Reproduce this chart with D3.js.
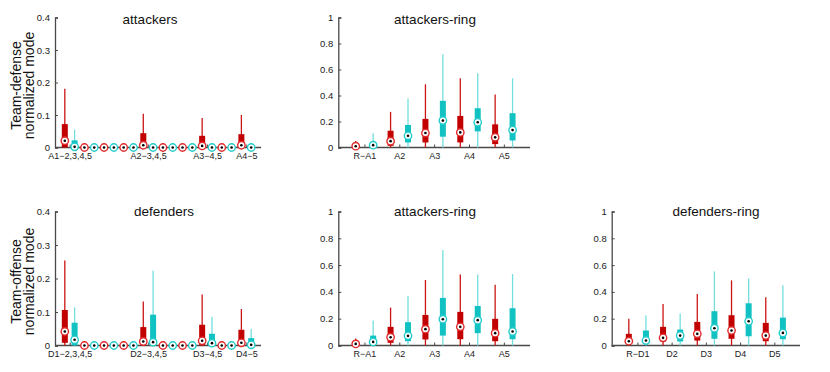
<!DOCTYPE html>
<html>
<head>
<meta charset="utf-8">
<script src="https://cdn.jsdelivr.net/npm/d3@7"></script>
<style>
  body { margin:0; background:#fff; }
  text { font-family: "Liberation Sans", Arial, sans-serif; }
</style>
</head>
<body>
<div id="chart"></div>
<script>
// each box: [low whisker, q1, median, q3, high whisker]
var Z = [0, 0, 0, 0, 0];

var attackersRed  = [[0,0,0.021,0.072,0.181], Z, Z, Z, [0,0,0.007,0.044,0.104], Z, Z, [0,0,0.005,0.036,0.091], Z, [0,0,0.007,0.041,0.100]];
var attackersCyan = [[0,0,0.002,0.022,0.055], Z, Z, Z, Z, Z, Z, Z, Z, Z];
var attackersLabels = ["A1\u22122,3,4,5", "A2\u22123,4,5", "A3\u22124,5", "A4\u22125"];
var attackersLabelPairs = [0, 4, 7, 9];

var defendersRed  = [[0,0.008,0.042,0.106,0.254], Z, Z, Z, [0,0,0.012,0.055,0.131], Z, Z, [0,0,0.014,0.062,0.152], Z, [0,0,0.008,0.047,0.109]];
var defendersCyan = [[0,0,0.017,0.068,0.114], Z, Z, Z, [0,0,0.010,0.092,0.223], Z, Z, [0,0,0.007,0.035,0.086], Z, [0,0,0.002,0.022,0.049]];
var defendersLabels = ["D1\u22122,3,4,5", "D2\u22123,4,5", "D3\u22124,5", "D4\u22125"];

var ringTopRed  = [[0,0,0.010,0.012,0.050], [0,0.013,0.049,0.129,0.274], [0,0.039,0.111,0.220,0.486], [0,0.039,0.116,0.243,0.532], [0,0.026,0.078,0.178,0.408]];
var ringTopCyan = [[0,0.005,0.018,0.030,0.110], [0,0.039,0.090,0.173,0.377], [0,0.083,0.207,0.359,0.718], [0,0.124,0.194,0.302,0.571], [0,0.054,0.134,0.264,0.532]];
var ringAttLabels = ["R\u2212A1", "A2", "A3", "A4", "A5"];

var ringBotRed  = [[0,0,0.012,0.014,0.052], [0,0.020,0.062,0.139,0.283], [0,0.045,0.122,0.228,0.489], [0,0.047,0.139,0.251,0.529], [0,0.032,0.092,0.199,0.454]];
var ringBotCyan = [[0,0.002,0.027,0.074,0.186], [0,0.032,0.072,0.174,0.372], [0,0.074,0.196,0.355,0.710], [0,0.092,0.189,0.295,0.529], [0,0.047,0.104,0.278,0.533]];

var ringDefRed  = [[0,0.020,0.032,0.087,0.199], [0,0.030,0.057,0.139,0.310], [0,0.037,0.087,0.176,0.385], [0,0.050,0.112,0.226,0.486], [0,0.032,0.074,0.169,0.360]];
var ringDefCyan = [[0,0.020,0.037,0.112,0.223], [0,0.030,0.074,0.119,0.238], [0,0.050,0.129,0.256,0.553], [0,0.069,0.181,0.315,0.499], [0,0.047,0.094,0.208,0.449]];
var ringDefLabels = ["R\u2212D1", "D2", "D3", "D4", "D5"];

var smallTicks = [0, 0.1, 0.2, 0.3, 0.4];
var ringTicks = [0, 0.2, 0.4, 0.6, 0.8, 1];

var W = 830, H = 372;
var svg = d3.select("#chart").append("svg").attr("width", W).attr("height", H);

var redBox = "#c20000", redWhisk = "#cc1414", redRing = "#e02a2a";
var cyanBox = "#12c2c2", cyanWhisk = "#74dede", cyanRing = "#22cccc";
var axisCol = "#4a4a4a";

var panels = [
  {title: "attackers", x0: 55, x1: 261, yTop: 17.5, yBot: 147.5, yMax: 0.4, ticks: smallTicks,
   tx: 150, ty: 24, red: attackersRed, cyan: attackersCyan, labels: attackersLabels, labelPairs: attackersLabelPairs,
   ylabel: ["Team-defense", "normalized mode"]},
  {title: "attackers-ring", x0: 338.3, x1: 530, yTop: 17.5, yBot: 147.5, yMax: 1, ticks: ringTicks,
   tx: 435, ty: 24, red: ringTopRed, cyan: ringTopCyan, labels: ringAttLabels, labelPairs: [0,1,2,3,4]},
  {title: "defenders", x0: 55, x1: 261, yTop: 211.5, yBot: 345.5, yMax: 0.4, ticks: smallTicks,
   tx: 164, ty: 215.5, red: defendersRed, cyan: defendersCyan, labels: defendersLabels, labelPairs: attackersLabelPairs,
   ylabel: ["Team-offense", "normalized mode"]},
  {title: "attackers-ring", x0: 338.3, x1: 530, yTop: 211.5, yBot: 345.5, yMax: 1, ticks: ringTicks,
   tx: 435, ty: 215.5, red: ringBotRed, cyan: ringBotCyan, labels: ringAttLabels, labelPairs: [0,1,2,3,4]},
  {title: "defenders-ring", x0: 611.7, x1: 800, yTop: 211.5, yBot: 345.5, yMax: 1, ticks: ringTicks,
   tx: 716, ty: 215.5, red: ringDefRed, cyan: ringDefCyan, labels: ringDefLabels, labelPairs: [0,1,2,3,4]}
];

panels.forEach(function(p) {
  var n = p.red.length * 2;
  var x = d3.scaleLinear().domain([0, n + 1]).range([p.x0, p.x1]);
  var y = d3.scaleLinear().domain([0, p.yMax]).range([p.yBot, p.yTop]);
  var g = svg.append("g");

  // y axis
  var ya = d3.axisLeft(y).tickValues(p.ticks).tickSize(-3).tickPadding(5)
    .tickFormat(function(d) { return d === 0 ? "0" : (d === 1 ? "1" : d3.format(".1f")(d)); });
  var yg = g.append("g").attr("transform", "translate(" + p.x0 + ",0)").call(ya);
  yg.select(".domain").attr("stroke", axisCol).attr("stroke-width", 1.3);
  yg.selectAll(".tick line").attr("stroke", axisCol);
  yg.selectAll("text").attr("font-size", 9.5).attr("fill", "#222");

  // x axis
  var centers = p.labelPairs.map(function(k) { return x(2 * k + 1.5); });
  var xa = d3.axisBottom(d3.scaleIdentity()).tickValues(centers).tickSize(-3).tickPadding(5)
    .tickFormat(function(d, i) { return p.labels[i]; });
  var xg = g.append("g").attr("transform", "translate(0," + p.yBot + ")").call(xa);
  xg.select(".domain").attr("d", "M" + p.x0 + ",0H" + p.x1).attr("stroke", axisCol).attr("stroke-width", 1.3);
  xg.selectAll(".tick line").attr("stroke", axisCol);
  xg.selectAll("text").attr("font-size", 9).attr("fill", "#222");

  // title
  g.append("text").attr("x", p.tx).attr("y", p.ty).attr("text-anchor", "middle")
    .attr("font-size", 13.5).attr("fill", "#111").text(p.title);

  if (p.ylabel) {
    var cy = (p.yTop + p.yBot) / 2 + 3;
    p.ylabel.forEach(function(t, i) {
      g.append("text").attr("transform", "translate(" + (20.5 + i * 13) + "," + cy + ") rotate(-90)")
        .attr("text-anchor", "middle").attr("font-size", 14).attr("fill", "#111").text(t);
    });
  }

  var boxes = [];
  p.red.forEach(function(v, i) { boxes.push({v: v, pos: 2 * i + 1, box: redBox, wh: redWhisk, ring: redRing}); });
  p.cyan.forEach(function(v, i) { boxes.push({v: v, pos: 2 * i + 2, box: cyanBox, wh: cyanWhisk, ring: cyanRing}); });

  var marks = g.selectAll("g.bx").data(boxes).enter().append("g").attr("class", "bx");
  marks.filter(function(d) { return d.v[4] > d.v[0]; }).append("line")
    .attr("x1", function(d) { return x(d.pos); }).attr("x2", function(d) { return x(d.pos); })
    .attr("y1", function(d) { return y(d.v[0]); }).attr("y2", function(d) { return y(d.v[4]); })
    .attr("stroke", function(d) { return d.wh; }).attr("stroke-width", 1.3);
  marks.filter(function(d) { return d.v[3] > d.v[1]; }).append("rect")
    .attr("x", function(d) { return x(d.pos) - 3; }).attr("width", 6)
    .attr("y", function(d) { return y(d.v[3]); })
    .attr("height", function(d) { return y(d.v[1]) - y(d.v[3]); })
    .attr("fill", function(d) { return d.box; });
  marks.append("circle")
    .attr("cx", function(d) { return x(d.pos); }).attr("cy", function(d) { return y(d.v[2]); })
    .attr("r", 3.7).attr("fill", "#fff").attr("stroke", function(d) { return d.ring; }).attr("stroke-width", 1.4);
  marks.append("circle")
    .attr("cx", function(d) { return x(d.pos); }).attr("cy", function(d) { return y(d.v[2]); })
    .attr("r", 1.3).attr("fill", "#000");
});
</script>
</body>
</html>
